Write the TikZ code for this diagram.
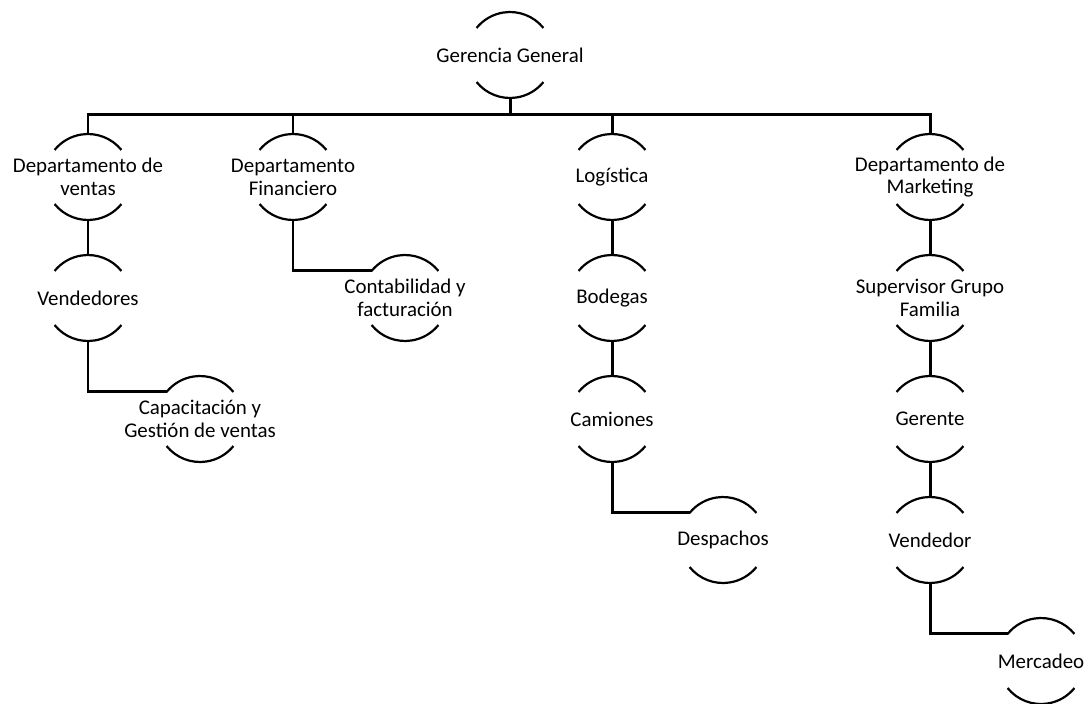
\documentclass[tikz,border=0pt]{standalone}
\usepackage{fontspec}
\setmainfont{Carlito}
\usepackage{tikz}
\definecolor{cline}{HTML}{000000}

\begin{document}
\begin{tikzpicture}[x=0.02cm, y=-0.02cm,
		unit/.style={circle, minimum size=1.72cm, inner sep=0pt, outer sep=0pt},
		txt/.style={align=center, inner sep=0pt, font=\fontsize{11.9pt}{13pt}\selectfont},
		rim/.style={cline, line width=1.25pt},
		link/.style={cline, line width=1.7pt}]
			\useasboundingbox (0,0) rectangle (1088,703);

			\node[unit, label={[txt]center:Gerencia General}] (gg) at (510,55) {};

			\node[unit, label={[txt]center:Departamento de\\ventas}] (dv) at (88,177) {};
			\node[unit, label={[txt]center:Departamento\\Financiero}] (df) at (293,177) {};
			\node[unit, label={[txt]center:Logística}] (lg) at (612,177) {};
			\node[unit, label={[txt]center:Departamento de\\Marketing}] (dm) at (930,177) {};

			\node[unit, label={[txt]center:Vendedores}] (vd) at (88,298) {};
			\node[unit, label={[txt]center:Capacitación y\\Gestión de ventas}] (cg) at (200,419) {};
			\node[unit, label={[txt]center:Contabilidad y\\facturación}] (cf) at (405,298) {};
			\node[unit, label={[txt]center:Bodegas}] (bd) at (612,298) {};
			\node[unit, label={[txt]center:Camiones}] (cm) at (612,419) {};
			\node[unit, label={[txt]center:Despachos}] (dp) at (723,540) {};
			\node[unit, label={[txt]center:Supervisor Grupo\\Familia}] (sg) at (930,298) {};
			\node[unit, label={[txt]center:Gerente}] (gt) at (930,419) {};
			\node[unit, label={[txt]center:Vendedor}] (vr) at (930,540) {};
			\node[unit, label={[txt]center:Mercadeo}] (mc) at (1041,661) {};

			% arcs above and below each unit
			\foreach \n in {gg,dv,df,lg,dm,vd,cg,cf,bd,cm,dp,sg,gt,vr,mc}
				\draw[rim] (\n.39) arc[start angle=39, end angle=141, radius=0.86cm]
					(\n.219) arc[start angle=219, end angle=321, radius=0.86cm];

			% top level
			\foreach \d in {dv,df,lg,dm}
				\draw[link] (gg.south) -- ++(0,-0.34cm) -| (\d.north);

			\draw[link] (dv.south) -- (vd.north);
			\draw[link] (lg.south) -- (bd.north);
			\draw[link] (bd.south) -- (cm.north);
			\draw[link] (dm.south) -- (sg.north);
			\draw[link] (sg.south) -- (gt.north);
			\draw[link] (gt.south) -- (vr.north);

			\draw[link] (vd.south) |- (cg.141);
			\draw[link] (df.south) |- (cf.141);
			\draw[link] (cm.south) |- (dp.141);
			\draw[link] (vr.south) |- (mc.141);
		\end{tikzpicture}
\end{document}
